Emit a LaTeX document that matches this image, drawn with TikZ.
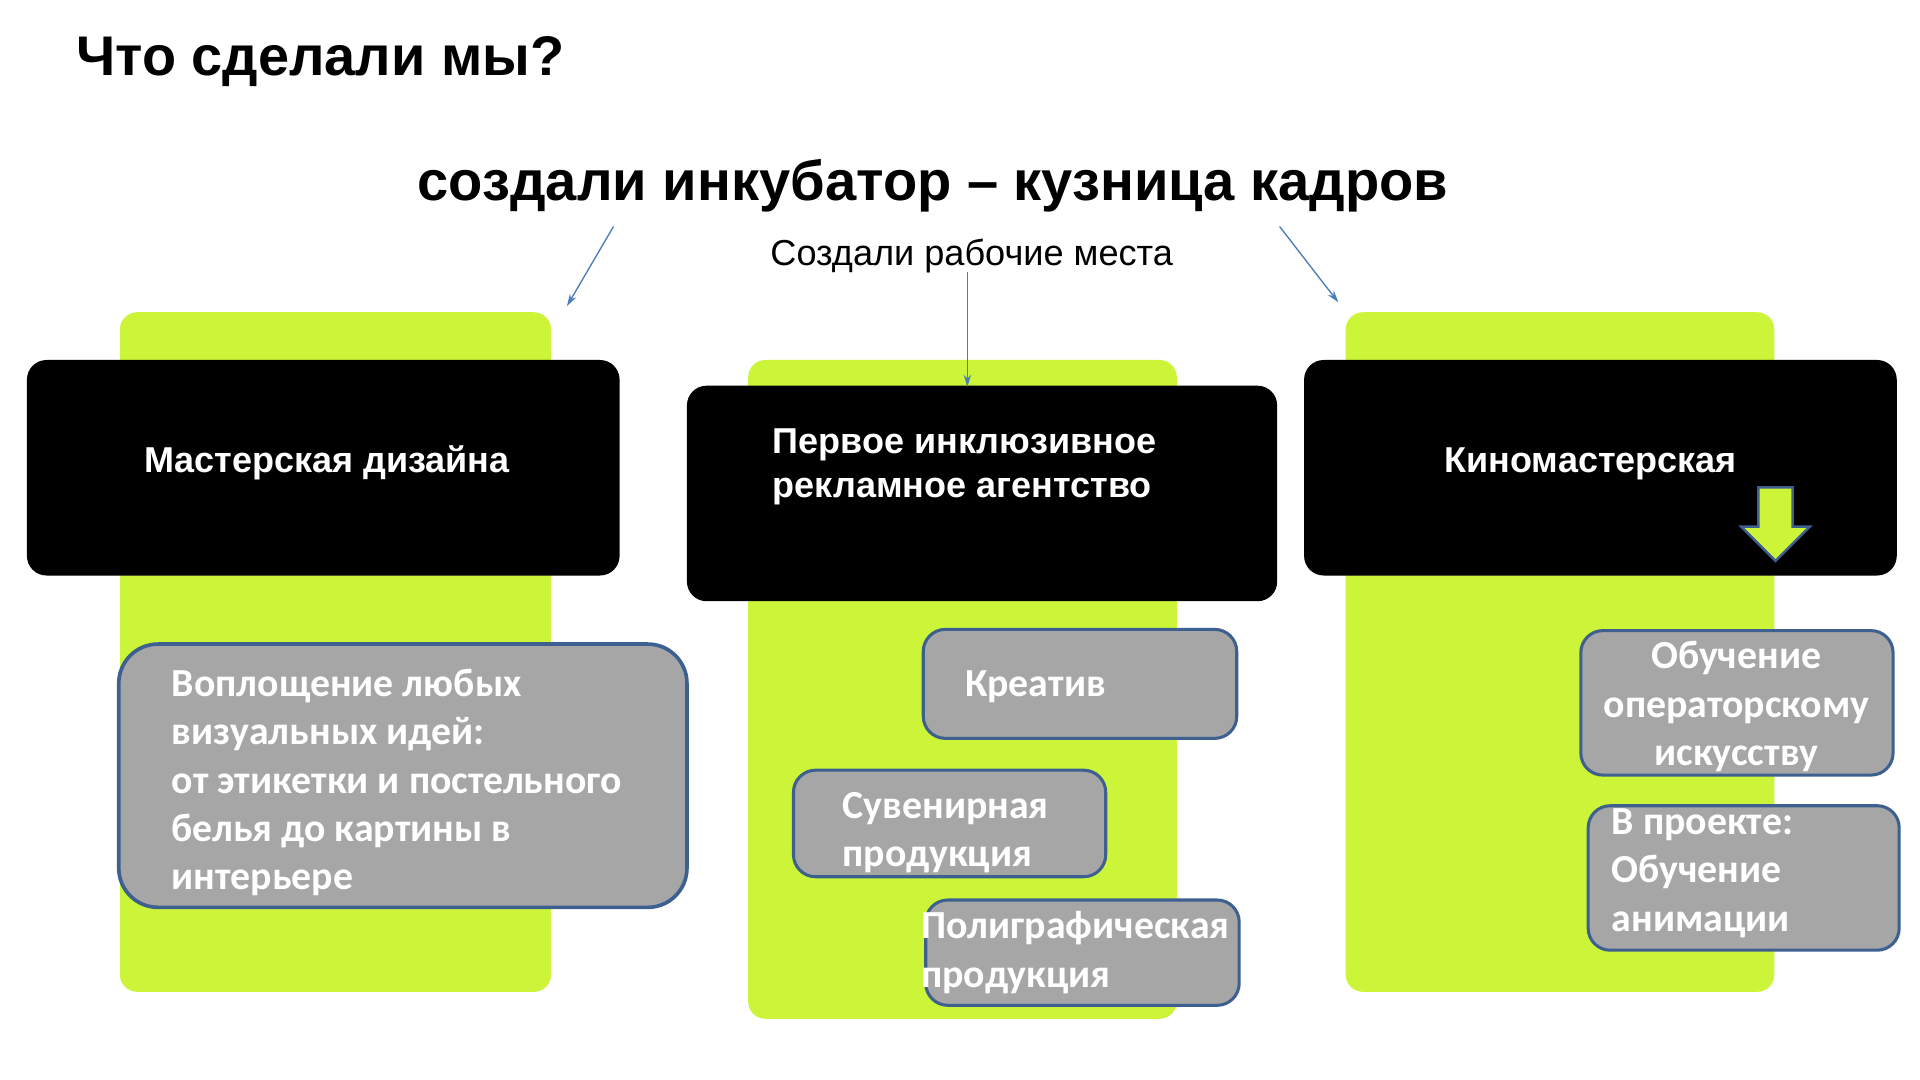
\documentclass[tikz,border=0pt]{standalone}
\usepackage{fontspec}
\setmainfont{Liberation Sans}
\newfontfamily\carl{Carlito}
\usetikzlibrary{arrows.meta}
\definecolor{lime}{HTML}{CCF53A}
\definecolor{boxgray}{HTML}{A6A6A6}
\definecolor{boxedge}{HTML}{3E6090}
\definecolor{arrowblue}{HTML}{4A7EBB}
\begin{document}
\begin{tikzpicture}[x=1pt,y=-1pt,
  panel/.style={fill=lime, rounded corners=14pt, inner sep=0pt},
  blackbox/.style={fill=black, rounded corners=16pt, inner sep=0pt, minimum width=484pt, minimum height=176pt},
  graybox/.style={fill=boxgray, draw=boxedge, line width=2.5pt, rounded corners=18pt, inner sep=0pt},
  boxtext/.style={text=white, font=\carl\bfseries\fontsize{32.5}{39.5}\selectfont, inner sep=0pt, align=left},
  headtext/.style={text=white, font=\bfseries\fontsize{29.4}{36}\selectfont, inner sep=0pt, align=left},
  link/.style={draw=arrowblue, line width=1.1pt, -{Stealth[length=10pt,width=6pt]}}
]
\useasboundingbox (0,0) rectangle (1568,882);
\fill[white] (0,0) rectangle (1568,882);

% titles
\node[anchor=base west, inner sep=0pt, font=\bfseries\fontsize{45.6}{50}\selectfont] (title) at (62,62) {Что сделали мы?};
\node[anchor=base, inner sep=0pt, font=\bfseries\fontsize{45.8}{50}\selectfont] (sub) at (762,164) {создали инкубатор – кузница кадров};
\node[anchor=base west, inner sep=0pt, font=\fontsize{29.5}{34}\selectfont] (jobs) at (629,217) {Создали рабочие места};

% green panels
\node[panel, minimum width=352pt, minimum height=555pt] (pL) at (274,532.5) {};
\node[panel, minimum width=350pt, minimum height=538pt] (pM) at (786,563) {};
\node[panel, minimum width=350pt, minimum height=555pt] (pR) at (1274,532.5) {};

% black boxes
\node[blackbox] (bL) at (264,382) {};
\node[blackbox, minimum width=482pt] (bM) at (802,403) {};
\node[blackbox] (bR) at (1307,382) {};
\node[headtext, anchor=base] (tL) at (267,386) {Мастерская дизайна};
\node[headtext, anchor=west] (tM) at (631,381) {Первое инклюзивное\\рекламное агентство};
\node[headtext, anchor=base] (tR) at (1299,386) {Киномастерская};

% green down arrow
\draw[fill=lime, draw=boxedge, line width=2pt, line join=miter]
  (1436,398) -- (1464,398) -- (1464,430) -- (1478,430) -- (1450,458) -- (1422,430) -- (1436,430) -- cycle;

% gray boxes
\node[graybox, rounded corners=32pt, line width=3pt, minimum width=464pt, minimum height=215pt] (g1) at (329,633.5) {};
\node[boxtext, anchor=west] (x1) at (140,639) {Воплощение любых\\визуальных идей:\\от этикетки и постельного\\белья до картины в\\интерьере};

\node[graybox, minimum width=256pt, minimum height=89pt] (g2) at (882,558.5) {};
\node[boxtext, anchor=west] (x2) at (788,561) {Креатив};

\node[graybox, minimum width=255pt, minimum height=87pt] (g3) at (775.5,672.5) {};
\node[boxtext, anchor=west] (x3) at (688,680) {Сувенирная\\продукция};

\node[graybox, minimum width=256pt, minimum height=86pt] (g4) at (884,778) {};
\node[boxtext, anchor=west] (x4) at (752,778) {Полиграфическая\\продукция};

\node[graybox, minimum width=255pt, minimum height=118pt] (g5) at (1418.5,574) {};
\node[boxtext, align=center] (x5) at (1418,577) {Обучение\\операторскому\\искусству};

\node[graybox, minimum width=254pt, minimum height=118pt] (g6) at (1424,717) {};
\node[boxtext, anchor=west] (x6) at (1316,713) {В проекте:\\Обучение\\анимации};

% blue arrows
\coordinate (aLs) at (501,185);
\coordinate (aLe) at (463,250);
\coordinate (aMs) at (790,222);
\coordinate (aMe) at (790,316);
\coordinate (aRs) at (1045,185);
\coordinate (aRe) at (1093,247);
\draw[link] (aLs) -- (aLe);
\draw[link] (aMs) -- (aMe);
\draw[link] (aRs) -- (aRe);
\end{tikzpicture}
\end{document}
